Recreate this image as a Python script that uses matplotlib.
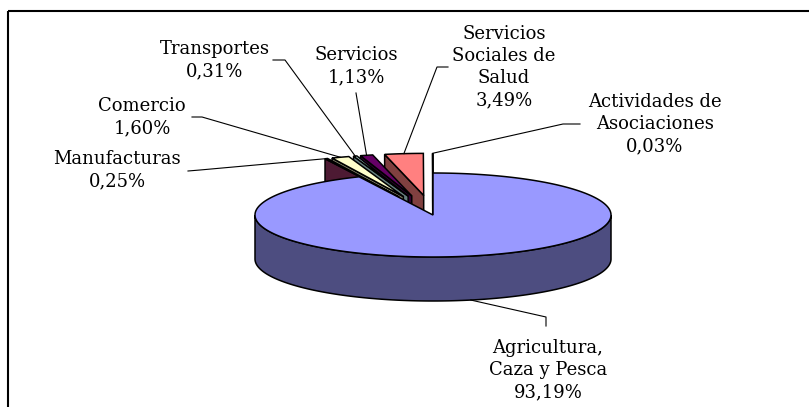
import numpy as np
import matplotlib
matplotlib.use("Agg")
import matplotlib.pyplot as plt
from matplotlib.patches import Polygon, Rectangle
from matplotlib.colors import to_rgb

# ---- data ----
categories = ["Agricultura,\nCaza y Pesca", "Manufacturas", "Comercio", "Transportes",
              "Servicios", "Servicios\nSociales de\nSalud", "Actividades de\nAsociaciones"]
values = [93.19, 0.25, 1.60, 0.31, 1.13, 3.49, 0.03]
colors = ["#9999FF", "#993366", "#FFFFCC", "#CCFFFF", "#660066", "#FF8080", "#0066CC"]
explode = [0.0, 0.47, 0.47, 0.47, 0.47, 0.47, 0.47]

# ---- layout ----
W, H = 809, 407
fig = plt.figure(figsize=(W / 100, H / 100), dpi=100)
ax = fig.add_axes([0, 0, 1, 1])
ax.set_xlim(0, W)
ax.set_ylim(H, 0)
ax.axis("off")

cx, cy, rx, ry, depth = 433, 215, 178, 42, 44
lw = 1.1

label_xy = [(548, 370), (117, 170), (142, 117), (215, 60), (356, 66), (504, 67), (655, 124)]
leader_pts = [[(546, 326), (546, 317)], [(188, 171), (200, 170)], [(192, 117), (202, 117)],
              [(273, 60), (285, 60)], [(356, 93)], [(448, 67), (437, 67)],
              [(580, 124), (563, 124)]]


def shade(c, f=0.5):
    return tuple(np.array(to_rgb(c)) * f)


def pt(t, r, ox, oy, z=0.0):
    tr = np.radians(t)
    return cx + ox + rx * r * np.cos(tr), cy + oy - ry * r * np.sin(tr) + z


fr = np.array(values) / np.sum(values)
cum = np.concatenate([[0], np.cumsum(fr)])
th_hi = 90 - 360 * cum[:-1]
th_lo = 90 - 360 * cum[1:]
mids = (th_hi + th_lo) / 2

offs = []
for i in range(len(values)):
    m = np.radians(mids[i])
    offs.append((explode[i] * rx * np.cos(m), -explode[i] * ry * np.sin(m)))

order = sorted(range(len(values)), key=lambda i: -np.sin(np.radians(mids[i])) * (1 + explode[i]))

z = 2
for i in order:
    lo, hi = th_lo[i], th_hi[i]
    ox, oy = offs[i]
    col = colors[i]
    dark = shade(col)
    # outer side (front-facing part)
    for k in range(-2, 3):
        a, b = max(lo, -180 + 360 * k), min(hi, 360 * k)
        if b > a:
            ts = np.linspace(a, b, 200)
            top = [pt(t, 1, ox, oy) for t in ts]
            bot = [pt(t, 1, ox, oy, depth) for t in ts[::-1]]
            ax.add_patch(Polygon(top + bot, closed=True, fc=dark, ec="black", lw=lw, zorder=z))
            z += 1
    # cut faces
    for t, nrm in ((hi, hi + 90), (lo, lo - 90)):
        if np.sin(np.radians(nrm)) < -1e-6:
            p0 = pt(t, 0, ox, oy)
            p1 = pt(t, 1, ox, oy)
            face = [p0, p1, (p1[0], p1[1] + depth), (p0[0], p0[1] + depth)]
            ax.add_patch(Polygon(face, closed=True, fc=dark, ec="black", lw=lw, zorder=z))
            z += 1
    # top face
    ts = np.linspace(lo, hi, max(3, int((hi - lo) * 2)))
    poly = [pt(0, 0, ox, oy)] + [pt(t, 1, ox, oy) for t in ts]
    ax.add_patch(Polygon(poly, closed=True, fc=col, ec="black", lw=lw, zorder=z, joinstyle="miter"))
    z += 1

# labels and leader lines
for i in range(len(values)):
    ox, oy = offs[i]
    if explode[i] == 0:
        anchor = pt(mids[i], 1, ox, oy, depth)
    else:
        anchor = pt(mids[i], 1, ox, oy)
    pts = leader_pts[i] + [anchor]
    ax.plot([p[0] for p in pts], [p[1] for p in pts], color="black", lw=0.8, zorder=z + 5)
    txt = categories[i] + "\n" + f"{values[i]:.2f}%".replace(".", ",")
    ax.text(label_xy[i][0], label_xy[i][1], txt, ha="center", va="center",
            multialignment="center", family="DejaVu Serif", fontsize=13,
            linespacing=1.3, zorder=z + 6)

# chart frame
ax.add_patch(Rectangle((8.5, 10.5), W + 20, H + 20, fill=False, ec="black", lw=1.5, zorder=1))

fig.savefig("out.png", dpi=100)
